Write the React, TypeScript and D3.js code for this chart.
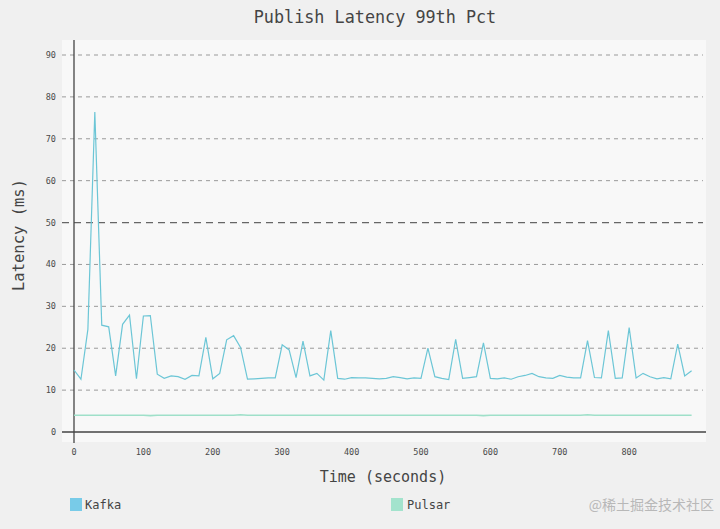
import React from "react";
import * as d3 from "d3";

// Sample times in seconds (one sample every 10 s)
const times: number[] = [
  0, 10, 20, 30, 40, 50, 60, 70, 80, 90,
  100, 110, 120, 130, 140, 150, 160, 170, 180, 190,
  200, 210, 220, 230, 240, 250, 260, 270, 280, 290,
  300, 310, 320, 330, 340, 350, 360, 370, 380, 390,
  400, 410, 420, 430, 440, 450, 460, 470, 480, 490,
  500, 510, 520, 530, 540, 550, 560, 570, 580, 590,
  600, 610, 620, 630, 640, 650, 660, 670, 680, 690,
  700, 710, 720, 730, 740, 750, 760, 770, 780, 790,
  800, 810, 820, 830, 840, 850, 860, 870, 880, 890,
];

// 99th percentile publish latency (ms)
const kafka: number[] = [
  14.8, 12.6, 24.5, 76.4, 25.5, 25.1, 13.4, 25.7, 27.9, 12.7,
  27.7, 27.8, 13.8, 12.8, 13.4, 13.2, 12.6, 13.5, 13.4, 22.6,
  12.7, 14.0, 22.0, 23.0, 20.2, 12.6, 12.7, 12.8, 12.9, 12.9,
  20.8, 19.6, 13.0, 21.7, 13.4, 14.0, 12.4, 24.2, 12.8, 12.6,
  13.0, 12.9, 12.9, 12.8, 12.7, 12.8, 13.2, 13.0, 12.7, 12.9,
  12.8, 20.0, 13.2, 12.8, 12.5, 22.1, 12.8, 13.0, 13.2, 21.3,
  12.8, 12.7, 12.9, 12.6, 13.2, 13.5, 14.0, 13.2, 12.9, 12.8,
  13.5, 13.1, 12.9, 12.9, 21.8, 13.0, 12.9, 24.2, 12.8, 12.9,
  24.9, 12.9, 14.0, 13.2, 12.7, 13.0, 12.7, 21.0, 13.4, 14.6,
];

const pulsar: number[] = [
  4.0, 4.0, 4.0, 4.0, 4.0, 4.0, 4.0, 4.0, 4.0, 4.0,
  4.0, 3.9, 4.0, 4.0, 4.0, 4.0, 4.0, 4.0, 4.0, 4.0,
  4.0, 4.0, 4.0, 4.0, 4.1, 4.0, 4.0, 4.0, 4.0, 4.0,
  4.0, 4.0, 4.0, 4.0, 4.0, 4.0, 4.0, 4.0, 4.0, 4.0,
  4.0, 4.0, 4.0, 4.0, 4.0, 4.0, 4.0, 4.0, 4.0, 4.0,
  4.0, 4.0, 4.0, 4.0, 4.0, 4.0, 4.0, 4.0, 4.0, 3.9,
  4.0, 4.0, 4.0, 4.0, 4.0, 4.0, 4.0, 4.0, 4.0, 4.0,
  4.0, 4.0, 4.0, 4.0, 4.1, 4.0, 4.0, 4.0, 4.0, 4.0,
  4.0, 4.0, 4.0, 4.0, 4.0, 4.0, 4.0, 4.0, 4.0, 4.0,
];

const xTicks: number[] = [0, 100, 200, 300, 400, 500, 600, 700, 800];
const yTicks: number[] = [0, 10, 20, 30, 40, 50, 60, 70, 80, 90];

const seriesNames: string[] = ["Kafka", "Pulsar"];

const W = 720;
const H = 529;
const MONO = "'DejaVu Sans Mono', monospace";

export default function App() {
  const x = d3.scaleLinear().domain([0, 910]).range([74, 705.5]);
  const y = d3.scaleLinear().domain([0, 90]).range([432, 55]);

  const line = d3
    .line<number>()
    .x((_, i) => x(times[i]))
    .y((d) => y(d));

  const plotLeft = 62;
  const plotRight = 706;

  return (
    <svg
      width={W}
      height={H}
      style={{ position: "absolute", left: 0, top: 0, background: "#f0f0f0" }}
    >
      <rect x={0} y={0} width={W} height={H} fill="#f0f0f0" />
      <rect x={plotLeft} y={40} width={plotRight - plotLeft} height={402} fill="#f8f8f8" />

      <text
        x={375}
        y={23}
        textAnchor="middle"
        fontFamily={MONO}
        fontSize={16.8}
        fill="#444"
      >
        Publish Latency 99th Pct
      </text>

      {/* horizontal grid */}
      {yTicks.filter((t) => t > 0).map((t) => (
        <line
          key={t}
          x1={plotLeft}
          x2={703}
          y1={y(t)}
          y2={y(t)}
          stroke={t === 50 ? "#666" : "#9a9a9a"}
          strokeWidth={t === 50 ? 1.3 : 1}
          strokeDasharray={t === 50 ? "7,5" : "4,4"}
        />
      ))}

      {/* y tick labels */}
      {yTicks.map((t) => (
        <text
          key={t}
          x={56}
          y={y(t)}
          dy="0.35em"
          textAnchor="end"
          fontFamily={MONO}
          fontSize={8.5}
          fill="#4a4a4a"
        >
          {t}
        </text>
      ))}

      {/* x tick labels */}
      {xTicks.map((t) => (
        <text
          key={t}
          x={x(t)}
          y={455}
          textAnchor="middle"
          fontFamily={MONO}
          fontSize={8.5}
          fill="#4a4a4a"
        >
          {t}
        </text>
      ))}

      {/* axes */}
      <line x1={plotLeft} x2={plotRight} y1={y(0)} y2={y(0)} stroke="#444" strokeWidth={1.3} />
      <line x1={x(0)} x2={x(0)} y1={40} y2={443} stroke="#444" strokeWidth={1.3} />

      {/* series */}
      <path d={line(pulsar) ?? ""} fill="none" stroke="#9fe0c9" strokeWidth={1.6} />
      <path d={line(kafka) ?? ""} fill="none" stroke="#6cc6d6" strokeWidth={1.2} />

      {/* axis titles */}
      <text
        x={383}
        y={482}
        textAnchor="middle"
        fontFamily={MONO}
        fontSize={15}
        fill="#444"
      >
        Time (seconds)
      </text>
      <text
        transform={`translate(24,235) rotate(-90)`}
        textAnchor="middle"
        fontFamily={MONO}
        fontSize={15.5}
        fill="#444"
      >
        Latency (ms)
      </text>

      {/* legend */}
      <rect x={70} y={498} width={12} height={13} fill="#78cbe8" />
      <text x={85} y={509} fontFamily={MONO} fontSize={12} fill="#444">
        {seriesNames[0]}
      </text>
      <rect x={391} y={498} width={12} height={13} fill="#a3e3cd" />
      <text x={407} y={509} fontFamily={MONO} fontSize={12} fill="#444">
        {seriesNames[1]}
      </text>

      <text
        x={714}
        y={510}
        textAnchor="end"
        fontFamily="'Noto Sans CJK SC', sans-serif"
        fontSize={14}
        fill="#b8b8b8"
      >
        @稀土掘金技术社区
      </text>
    </svg>
  );
}
